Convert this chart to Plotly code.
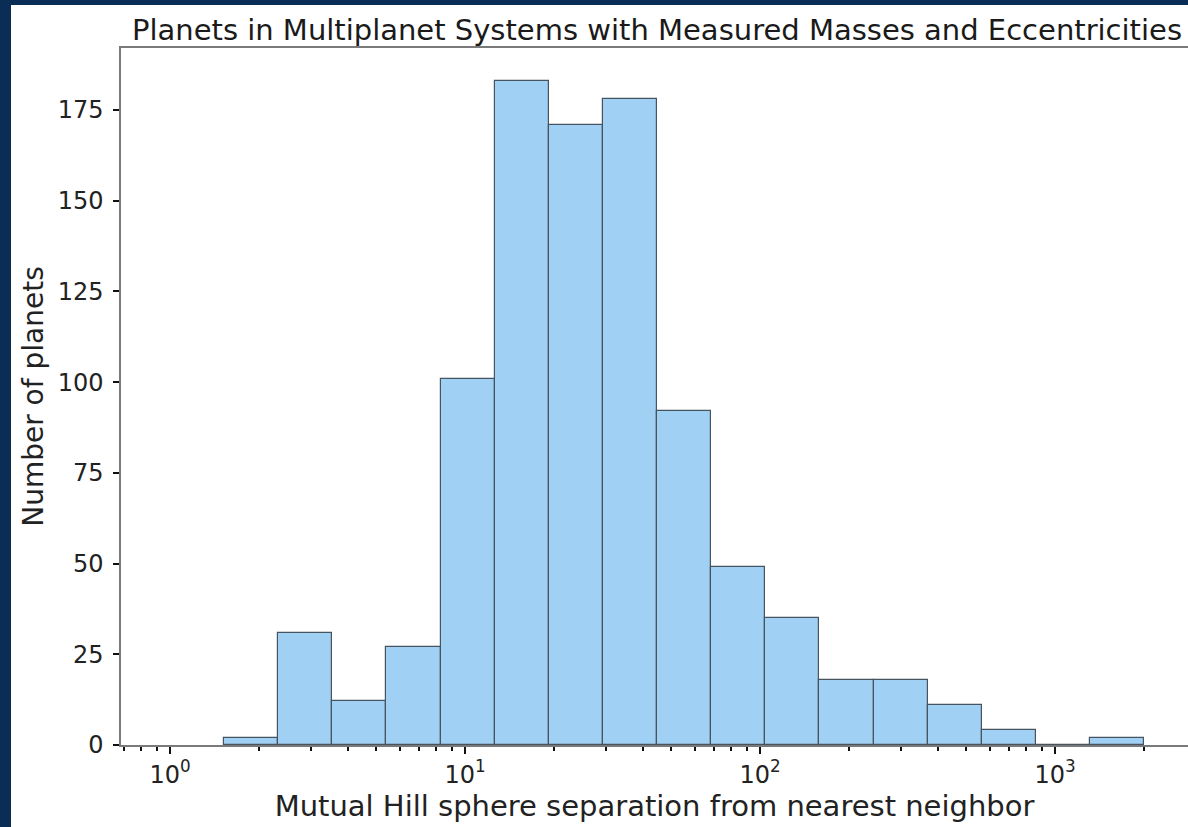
import plotly.graph_objects as go

# Histogram bin edges (log-spaced) and counts
bin_edges = [1.524, 2.326, 3.548, 5.414, 8.260, 12.60, 19.23, 29.34, 44.77,
             68.31, 104.2, 159.0, 242.7, 370.3, 564.9, 861.9, 1315.0, 2007.0]
counts = [2, 31, 12, 27, 101, 183, 171, 178, 92, 49, 35, 18, 18, 11, 4, 0, 2]

x_tickvals = [1, 10, 100, 1000]
x_ticktext = ["10<sup>0</sup>", "10<sup>1</sup>", "10<sup>2</sup>", "10<sup>3</sup>"]
y_tickvals = [0, 25, 50, 75, 100, 125, 150, 175]

title_text = "Planets in Multiplanet Systems with Measured Masses and Eccentricities"
x_title = "Mutual Hill sphere separation from nearest neighbor"
y_title = "Number of planets"

minor_vals = []
for dec in [0.1, 1, 10, 100, 1000]:
    for m in range(2, 10):
        minor_vals.append(dec * m)

# bars on a log axis are laid out in linear data units: use arithmetic mid + linear width
mids = [(bin_edges[i] + bin_edges[i + 1]) / 2 for i in range(len(counts))]
widths = [bin_edges[i + 1] - bin_edges[i] for i in range(len(counts))]

FONT = "DejaVu Sans"
fig = go.Figure()
fig.add_trace(go.Bar(
    x=mids, y=counts, width=widths,
    marker=dict(color="#a0d1f5", line=dict(color="#485360", width=1.2)),
    showlegend=False,
))

W, H = 1188, 827
L, R, T, B = 121, 0, 48, 82
pw, ph = W - L - R, H - T - B

x0_log = (121 - 170) / 295.0
x1_log = (1188 - 170) / 295.0

# paper y of the top edge of the page
top_paper = (H - B) / ph

fig.update_layout(
    width=W, height=H,
    margin=dict(l=L, r=R, t=T, b=B, pad=0),
    paper_bgcolor="white", plot_bgcolor="white",
    bargap=0,
    font=dict(family=FONT, color="#222222"),
    title=dict(text=title_text, x=(657 - L) / pw, xref="paper", xanchor="center",
               y=1 - 30 / H, yanchor="middle", yref="container",
               font=dict(size=29, family=FONT, color="#1a1a1a")),
    xaxis=dict(
        type="log", range=[x0_log, x1_log],
        showline=True, linecolor="#7a7a7a", linewidth=1.5, mirror=True,
        showgrid=False, zeroline=False,
        tickvals=x_tickvals, ticktext=x_ticktext,
        ticks="outside", ticklen=7, tickwidth=2, tickcolor="#111111",
        tickfont=dict(size=24, family=FONT, color="#222222"),
        minor=dict(tickvals=minor_vals, ticks="outside", ticklen=4, tickwidth=2,
                   tickcolor="#111111", showgrid=False),
        title=dict(text=x_title, font=dict(size=29, family=FONT, color="#222222"), standoff=2),
    ),
    yaxis=dict(
        range=[0, 192.1],
        showline=True, linecolor="#7a7a7a", linewidth=1.5, mirror=False,
        showgrid=False, zeroline=False,
        tickvals=y_tickvals,
        ticks="outside", ticklen=6, tickwidth=2, tickcolor="#111111",
        tickfont=dict(size=24, family=FONT, color="#222222"),
        ticklabelstandoff=5,
        title=dict(text=y_title, font=dict(size=28, family=FONT, color="#222222"), standoff=6),
    ),
    shapes=[
        # navy frame strips (left and top)
        dict(type="rect", xref="paper", yref="paper",
             x0=-L / pw - 0.01, x1=(11 - L) / pw, y0=-B / ph - 0.01, y1=top_paper + 0.01,
             fillcolor="#0a2d55", line=dict(width=0), layer="below"),
        dict(type="rect", xref="paper", yref="paper",
             x0=-L / pw - 0.01, x1=1.01, y0=(H - B - 5) / ph, y1=top_paper + 0.01,
             fillcolor="#0a2d55", line=dict(width=0), layer="below"),
    ],
)

fig.write_html("out.html")
